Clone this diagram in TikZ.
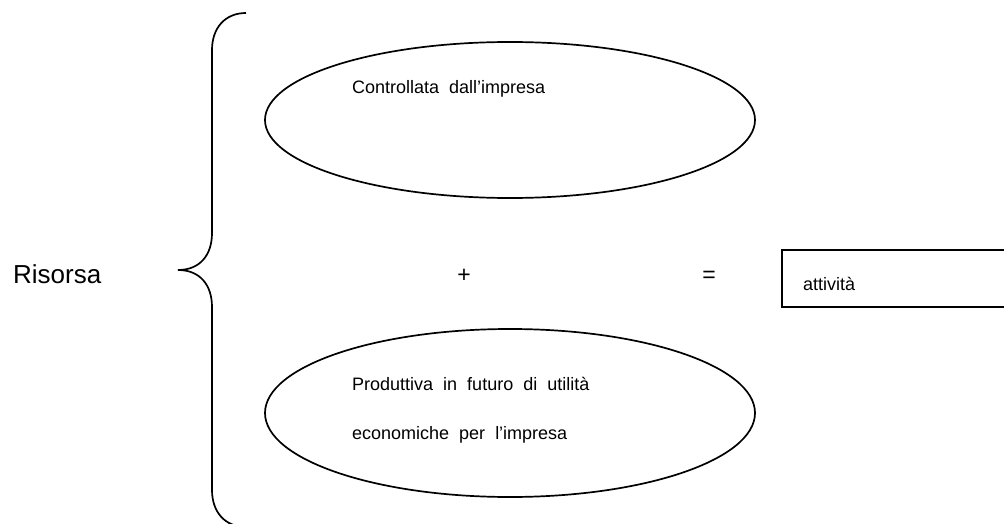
\documentclass[tikz,border=0pt]{standalone}
\usepackage{fontspec}
\setmainfont{Liberation Sans}
\usetikzlibrary{shapes.geometric}
\begin{document}
\begin{tikzpicture}[x=1pt,y=-1pt,
  line/.style={line width=1.7pt,black},
  oval/.style={ellipse,draw,line width=1.7pt,inner sep=0pt},
  txt/.style={inner sep=0pt,anchor=base west,font=\fontsize{18}{22}\selectfont},
  bigtxt/.style={inner sep=0pt,anchor=base west,font=\fontsize{26}{30}\selectfont},
  sym/.style={inner sep=0pt,anchor=center,font=\fontsize{23}{28}\selectfont}]
\useasboundingbox (0,0) rectangle (1004,524);
% brace
\draw[line] (246,13) .. controls (225,13) and (212,28) .. (212,50) -- (212,233)
  .. controls (212,255) and (200,270) .. (178,270)
  .. controls (200,270) and (212,285) .. (212,307) -- (212,490)
  .. controls (212,512) and (225,527) .. (246,527);
% ellipses
\node[oval,minimum width=490pt,minimum height=156pt] (e1) at (510,120) {};
\node[oval,minimum width=490pt,minimum height=168pt] (e2) at (510,413) {};
% texts
\node[txt] (t1) at (352,94) {Controllata\ \ dall’impresa};
\node[txt] (t2) at (352,390) {Produttiva\ \ in\ \ futuro\ \ di\ \ utilità};
\node[txt] (t3) at (352,439) {economiche\ \ per\ \ l’impresa};
\node[bigtxt] (ris) at (13,283) {Risorsa};
\node[sym] (plus) at (464,276) {+};
\node[sym] (eq) at (709,277) {=};
% box (open on the right)
\node[inner sep=0pt,minimum width=222pt,minimum height=57pt] (box) at (893,278.5) {};
\draw[line] (box.north east) -- (box.north west) -- (box.south west) -- (box.south east);
\node[txt] (att) at (803,290) {attività};
\end{tikzpicture}
\end{document}
